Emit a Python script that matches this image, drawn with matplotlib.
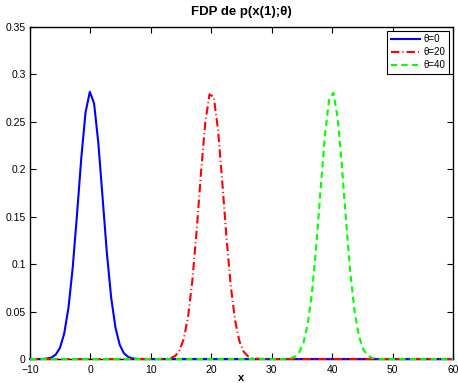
import matplotlib
matplotlib.use("Agg")
import matplotlib.pyplot as plt

plt.rcParams['font.family'] = ['Liberation Sans', 'DejaVu Sans']

# puntos de muestreo en x
x = [-10.000, -9.293, -8.586, -7.879, -7.172, -6.465, -5.758, -5.051, -4.343, -3.636,
     -2.929, -2.222, -1.515, -0.808, -0.101, 0.606, 1.313, 2.020, 2.727, 3.434,
     4.141, 4.848, 5.556, 6.263, 6.970, 7.677, 8.384, 9.091, 9.798, 10.505,
     11.212, 11.919, 12.626, 13.333, 14.040, 14.747, 15.455, 16.162, 16.869, 17.576,
     18.283, 18.990, 19.697, 20.404, 21.111, 21.818, 22.525, 23.232, 23.939, 24.646,
     25.354, 26.061, 26.768, 27.475, 28.182, 28.889, 29.596, 30.303, 31.010, 31.717,
     32.424, 33.131, 33.838, 34.545, 35.253, 35.960, 36.667, 37.374, 38.081, 38.788,
     39.495, 40.202, 40.909, 41.616, 42.323, 43.030, 43.737, 44.444, 45.152, 45.859,
     46.566, 47.273, 47.980, 48.687, 49.394, 50.101, 50.808, 51.515, 52.222, 52.929,
     53.636, 54.343, 55.051, 55.758, 56.465, 57.172, 57.879, 58.586, 59.293, 60.000]

# p(x(1);theta) para theta = 0
p_theta0 = [0, 0, 0, 0.0001, 0.0005, 0.0015, 0.0045, 0.0116, 0.0267, 0.0540,
            0.0965, 0.1522, 0.2117, 0.2600, 0.2817, 0.2694, 0.2274, 0.1694, 0.1113, 0.0646,
            0.0331, 0.0149, 0.0059, 0.0021, 0.0006, 0.0002, 0, 0, 0, 0,
            0, 0, 0, 0, 0, 0, 0, 0, 0, 0,
            0, 0, 0, 0, 0, 0, 0, 0, 0, 0,
            0, 0, 0, 0, 0, 0, 0, 0, 0, 0,
            0, 0, 0, 0, 0, 0, 0, 0, 0, 0,
            0, 0, 0, 0, 0, 0, 0, 0, 0, 0,
            0, 0, 0, 0, 0, 0, 0, 0, 0, 0,
            0, 0, 0, 0, 0, 0, 0, 0, 0, 0]

# theta = 20
p_theta20 = [0, 0, 0, 0, 0, 0, 0, 0, 0, 0,
             0, 0, 0, 0, 0, 0, 0, 0, 0, 0,
             0, 0, 0, 0, 0, 0, 0, 0, 0, 0,
             0, 0.0001, 0.0003, 0.0011, 0.0033, 0.0090, 0.0213, 0.0447, 0.0828, 0.1353,
             0.1951, 0.2483, 0.2789, 0.2764, 0.2418, 0.1866, 0.1271, 0.0764, 0.0406, 0.0190,
             0.0078, 0.0029, 0.0009, 0.0003, 0.0001, 0, 0, 0, 0, 0,
             0, 0, 0, 0, 0, 0, 0, 0, 0, 0,
             0, 0, 0, 0, 0, 0, 0, 0, 0, 0,
             0, 0, 0, 0, 0, 0, 0, 0, 0, 0,
             0, 0, 0, 0, 0, 0, 0, 0, 0, 0]

# theta = 40
p_theta40 = [0, 0, 0, 0, 0, 0, 0, 0, 0, 0,
             0, 0, 0, 0, 0, 0, 0, 0, 0, 0,
             0, 0, 0, 0, 0, 0, 0, 0, 0, 0,
             0, 0, 0, 0, 0, 0, 0, 0, 0, 0,
             0, 0, 0, 0, 0, 0, 0, 0, 0, 0,
             0, 0, 0, 0, 0, 0, 0, 0, 0, 0.0001,
             0.0002, 0.0008, 0.0025, 0.0068, 0.0169, 0.0367, 0.0704, 0.1191, 0.1780, 0.2348,
             0.2732, 0.2807, 0.2544, 0.2035, 0.1437, 0.0895, 0.0492, 0.0239, 0.0102, 0.0039,
             0.0013, 0.0004, 0.0001, 0, 0, 0, 0, 0, 0, 0,
             0, 0, 0, 0, 0, 0, 0, 0, 0, 0]

etiquetas = ['θ=0', 'θ=20', 'θ=40']

fig = plt.figure(figsize=(4.58, 3.83), dpi=100)
ax = fig.add_axes([30 / 458, 24 / 383, 423 / 458, 332 / 383])

ax.plot(x, p_theta0, color='#0000ff', lw=1.5, ls='-', label=etiquetas[0],
        zorder=3, clip_on=False)
ax.plot(x, p_theta20, color='#ff0000', lw=1.5, ls=(0, (4, 1.5, 0.5, 1.5)),
        label=etiquetas[1], zorder=3, clip_on=False)
ax.plot(x, p_theta40, color='#00ff00', lw=1.5, ls=(0, (3, 2)), label=etiquetas[2],
        zorder=3, clip_on=False)

ax.set_xlim(-10, 60)
ax.set_ylim(0, 0.35)
ax.set_xticks([-10, 0, 10, 20, 30, 40, 50, 60])
ax.set_xticklabels(['\u221210', '0', '10', '20', '30', '40', '50', '60'])
ax.set_yticks([0, 0.05, 0.1, 0.15, 0.2, 0.25, 0.3, 0.35])
ax.set_yticklabels(['0', '0.05', '0.1', '0.15', '0.2', '0.25', '0.3', '0.35'])
ax.tick_params(direction='in', length=4, width=0.8, top=True, right=True,
               labelsize=7.5)
ax.tick_params(axis='x', pad=4.5)
ax.tick_params(axis='y', pad=3)
for s in ax.spines.values():
    s.set_linewidth(1.0)

ax.set_title('FDP de p(x(1);θ)', fontsize=9.5, fontweight='bold', pad=9)
ax.set_xlabel('x', fontsize=8, fontweight='bold', labelpad=-1.5)

leg = ax.legend(loc='upper right', fontsize=7, fancybox=False, framealpha=1,
                edgecolor='black', handlelength=3.0, borderaxespad=0.4,
                labelspacing=0.3, handletextpad=0.4, borderpad=0.35)
leg.get_frame().set_linewidth(0.8)

fig.savefig('out.png', dpi=100)
